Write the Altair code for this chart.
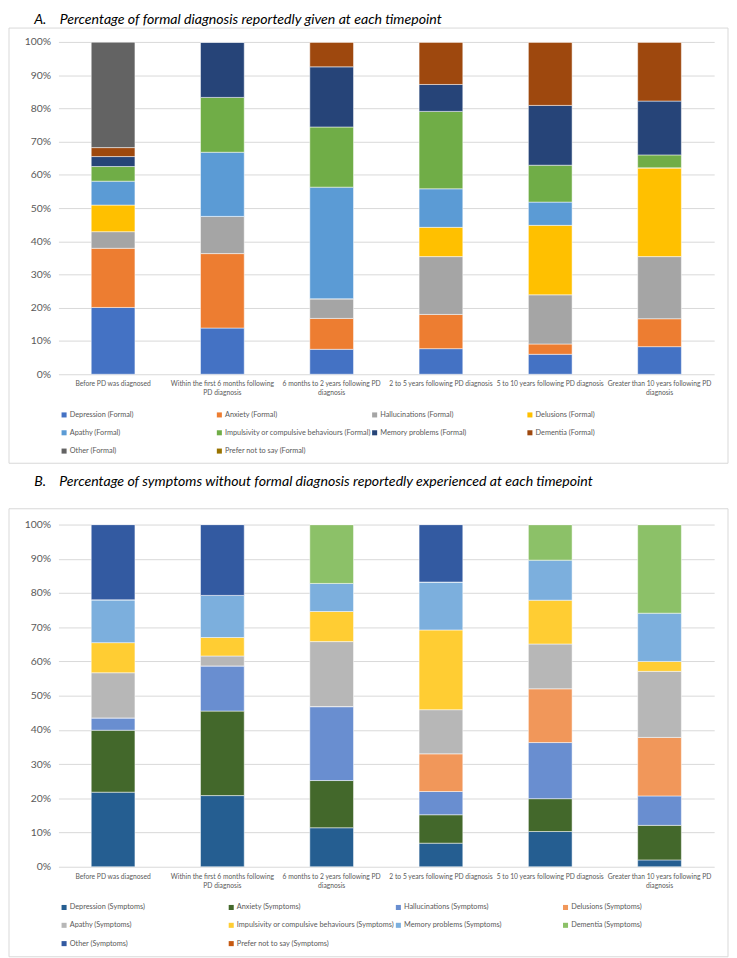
import json
import altair as alt
import pandas as pd

TIMEPOINTS = [
    "Before PD was diagnosed",
    "Within the first 6 months following PD diagnosis",
    "6 months to 2 years following PD diagnosis",
    "2 to 5 years following PD diagnosis",
    "5 to 10 years following PD diagnosis",
    "Greater than 10 years following PD diagnosis",
]
TICK_LINES = [
    ["Before PD was diagnosed"],
    ["Within the first 6 months following", "PD diagnosis"],
    ["6 months to 2 years following PD", "diagnosis"],
    ["2 to 5 years following PD diagnosis"],
    ["5 to 10 years following PD diagnosis"],
    ["Greater than 10 years following PD", "diagnosis"],
]
SYMPTOMS = [
    "Depression", "Anxiety", "Hallucinations", "Delusions", "Apathy",
    "Impulsivity or compulsive behaviours", "Memory problems", "Dementia",
    "Other", "Prefer not to say",
]

# Panel A: formal diagnosis (%)
A_depression = [20.1, 13.9, 7.5, 7.7, 6.0, 8.3]
A_anxiety = [17.8, 22.4, 9.3, 10.3, 3.1, 8.4]
A_hallucinations = [5.0, 11.2, 5.9, 17.4, 14.8, 18.7]
A_delusions = [8.0, 0.0, 0.0, 8.8, 20.9, 26.7]
A_apathy = [7.2, 19.3, 33.6, 11.6, 7.0, 0.0]
A_impulsivity = [4.4, 16.5, 18.1, 23.3, 11.1, 3.9]
A_memory = [3.0, 16.7, 18.1, 8.1, 18.0, 16.2]
A_dementia = [2.7, 0.0, 7.5, 12.8, 19.1, 17.8]
A_other = [31.8, 0.0, 0.0, 0.0, 0.0, 0.0]
A_prefer = [0.0, 0.0, 0.0, 0.0, 0.0, 0.0]

# Panel B: symptoms without formal diagnosis (%)
B_depression = [21.8, 20.8, 11.4, 6.9, 10.3, 2.0]
B_anxiety = [18.1, 24.7, 13.8, 8.3, 9.6, 10.1]
B_hallucinations = [3.6, 13.2, 21.6, 6.8, 16.4, 8.6]
B_delusions = [0.0, 0.0, 0.0, 11.0, 15.7, 17.1]
B_apathy = [13.2, 2.9, 19.0, 12.9, 13.1, 19.3]
B_impulsivity = [8.8, 5.4, 8.8, 23.3, 12.8, 2.9]
B_memory = [12.5, 12.3, 8.2, 14.0, 11.7, 14.1]
B_dementia = [0.0, 0.0, 17.2, 0.0, 10.4, 25.9]
B_other = [22.0, 20.7, 0.0, 16.8, 0.0, 0.0]
B_prefer = [0.0, 0.0, 0.0, 0.0, 0.0, 0.0]

COLORS_A = ["#4472C4", "#ED7D31", "#A5A5A5", "#FFC000", "#5B9BD5",
            "#70AD47", "#264478", "#9E480E", "#636363", "#997300"]
COLORS_B = ["#255E91", "#43682B", "#698ED0", "#F1975A", "#B7B7B7",
            "#FFCD33", "#7CAFDD", "#8CC168", "#335AA1", "#C65911"]

TITLE_A = "A.\u00a0\u00a0\u00a0\u00a0Percentage of formal diagnosis reportedly given at each timepoint"
TITLE_B = "B.\u00a0\u00a0\u00a0\u00a0Percentage of symptoms without formal diagnosis reportedly experienced at each timepoint"

FONT = "Lato"
W = 663


def make_df(series_values, suffix):
    rows = []
    for i, (name, vals) in enumerate(zip(SYMPTOMS, series_values)):
        for t, v in zip(TIMEPOINTS, vals):
            rows.append({"timepoint": t, "series": f"{name} ({suffix})", "idx": i, "value": v})
    return pd.DataFrame(rows)


label_expr = " : ".join(
    f"datum.value == {json.dumps(t)} ? {json.dumps(lines)}" for t, lines in zip(TIMEPOINTS, TICK_LINES)
) + " : datum.value"


def panel(df, suffix, colors, title, title_offset, H, leg_y, frame_top, frame_bottom):
    series = [f"{s} ({suffix})" for s in SYMPTOMS]
    bars = alt.Chart(df).mark_bar(stroke="white", strokeWidth=0.5).encode(
        x=alt.X("timepoint:N", sort=TIMEPOINTS,
                scale=alt.Scale(paddingInner=0.6, paddingOuter=0.3),
                axis=alt.Axis(title=None, labelAngle=0, ticks=False, domain=False,
                              labelExpr=label_expr, labelFontSize=6.8, labelColor="#595959",
                              labelFont=FONT, labelPadding=6.5, labelLineHeight=9,
                              labelBaseline="top")),
        y=alt.Y("value:Q", stack="normalize", scale=alt.Scale(domain=[0, 1]),
                axis=alt.Axis(title=None, format=".0%", values=[i / 10 for i in range(11)],
                              ticks=False, domain=False, grid=True, gridColor="#D9D9D9",
                              labelFontSize=10.5, labelColor="#595959", labelFont=FONT,
                              labelPadding=8)),
        color=alt.Color("series:N", scale=alt.Scale(domain=series, range=colors),
                        legend=alt.Legend(title=None, orient="none", legendX=2, legendY=leg_y,
                                          direction="horizontal", columns=4, gridAlign="all",
                                          symbolType="square", symbolSize=26, symbolStrokeWidth=0,
                                          labelFontSize=7.4, labelColor="#595959", labelFont=FONT,
                                          rowPadding=9.5, columnPadding=0, labelOffset=2,
                                          labelLimit=300)),
        order=alt.Order("idx:Q"),
    )
    frame = alt.Chart(pd.DataFrame({"f": [0]})).mark_rect(
        fill="transparent", stroke="#D9D9D9", strokeWidth=1
    ).encode(x=alt.value(-50), x2=alt.value(W + 14), y=alt.value(-frame_top),
             y2=alt.value(H + frame_bottom))
    return alt.layer(frame, bars).properties(
        width=W, height=H,
        title=alt.TitleParams(title, anchor="start", dx=26, offset=title_offset, fontStyle="italic",
                              fontSize=14.3, font=FONT, fontWeight="normal", color="#000000"),
    )


df_a = make_df([A_depression, A_anxiety, A_hallucinations, A_delusions, A_apathy,
                A_impulsivity, A_memory, A_dementia, A_other, A_prefer], "Formal")
df_b = make_df([B_depression, B_anxiety, B_hallucinations, B_delusions, B_apathy,
                B_impulsivity, B_memory, B_dementia, B_other, B_prefer], "Symptoms")

HA, HB = 336, 346
pa = panel(df_a, "Formal", COLORS_A, TITLE_A, 0, HA, HA + 37, 14, 90)
pb = panel(df_b, "Symptoms", COLORS_B, TITLE_B, 19, HB, HB + 37, 16, 91)

chart = alt.vconcat(pa, pb, spacing=11).resolve_scale(color="independent").properties(
    padding=0, background="white"
).configure_view(stroke=None)

chart.save("out.html", embed_options={"renderer": "svg", "actions": False})
